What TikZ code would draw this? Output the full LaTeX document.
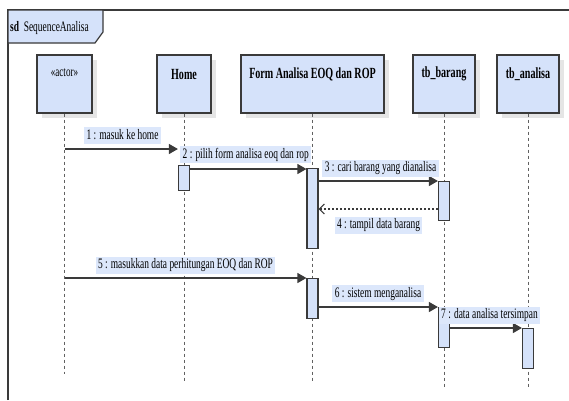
\documentclass[tikz,border=0pt]{standalone}
\usepackage{fontspec}
\newfontfamily\uml{Liberation Serif}[FakeStretch=0.65]
\usetikzlibrary{arrows.meta,shadows}
\definecolor{boxblue}{HTML}{D5E2FA}
\definecolor{labblue}{HTML}{DCE7FB}
\definecolor{edge}{HTML}{3A3A3A}
\begin{document}
\begin{tikzpicture}[x=1pt,y=-1pt,
  font=\uml\fontsize{14.5}{16}\selectfont,
  head/.style={draw=edge, line width=1.2pt, fill=boxblue, minimum width=#1,
    minimum height=58pt, inner sep=0pt,
    drop shadow={shadow xshift=5pt, shadow yshift=-5pt, fill=black!10, opacity=1}},
  htitle/.style={font=\uml\fontsize{15.5}{17}\selectfont\bfseries, inner sep=0pt},
  act/.style={draw=edge, line width=1.2pt, fill=boxblue, minimum width=11pt, inner sep=0pt, anchor=north},
  lifeline/.style={draw=edge!80, line width=0.9pt, dash pattern=on 3pt off 3pt},
  msg/.style={draw=edge, line width=1.3pt, -{Triangle[length=9pt,width=10pt]}},
  ret/.style={draw=edge, line width=1.1pt, dash pattern=on 2pt off 2pt, -{Straight Barb[length=5pt,width=10pt]}},
  lab/.style={fill=labblue, inner xsep=2.5pt, inner ysep=0pt, minimum height=17pt, text height=10pt, text depth=3pt}
]
\useasboundingbox (0,0) rectangle (569,400);
\fill[white] (0,0) rectangle (569,400);

% frame
\draw[edge, line width=1.3pt] (8,400) -- (8,10) -- (569,10);
\draw[edge, line width=1.2pt, fill=boxblue] (8,10) -- (103,10) -- (103,32) -- (95,43) -- (8,43) -- cycle;
\node[anchor=west, inner sep=0pt] (sdt) at (10,28) {\textbf{sd}\ \ SequenceAnalisa};

% heads
\node[head=55pt] (hA) at (64.5,84) {};
\node[head=54pt] (hH) at (184,84) {};
\node[head=143pt] (hF) at (312.5,84) {};
\node[head=62pt] (hB) at (444,84) {};
\node[head=62pt] (hC) at (528,84) {};
\node[inner sep=0pt, font=\uml\fontsize{14}{16}\selectfont] (tA) at (64.5,73) {«actor»};
\node[htitle] (tH) at (184,74) {Home};
\node[htitle] (tF) at (312.5,74) {Form Analisa EOQ dan ROP};
\node[htitle] (tB) at (444,74) {tb\_barang};
\node[htitle] (tC) at (528,74) {tb\_analisa};

% lifelines
\path (hA.south) ++(0,260) coordinate (eA);
\path (hH.south) ++(0,269) coordinate (eH);
\path (hF.south) ++(0,269) coordinate (eF);
\path (hB.south) ++(0,274) coordinate (eB);
\path (hC.south) ++(0,274) coordinate (eC);
\draw[lifeline] (hA.south) -- (eA);
\draw[lifeline] (hH.south) -- (eH);
\draw[lifeline] (hF.south) -- (eF);
\draw[lifeline] (hB.south) -- (eB);
\draw[lifeline] (hC.south) -- (eC);

% activations
\node[act, minimum height=25pt] (aH) at (184,165) {};
\node[act, minimum height=80pt] (aF1) at (312.5,168) {};
\node[act, minimum height=39pt] (aB1) at (444,181) {};
\node[act, minimum height=40pt] (aF2) at (312.5,278) {};
\node[act, minimum height=40pt] (aB2) at (444,307) {};
\node[act, minimum height=40pt] (aC) at (528,328) {};

% message end points
\coordinate (m1s) at (hA.south |- 0,149);
\coordinate (m1e) at (aH.west |- 0,149);
\coordinate (m5s) at (hA.south |- 0,278);

% messages
\draw[msg] (m1s) -- (m1e);
\draw[msg] (aH.east |- 0,169) -- (aF1.west |- 0,169);
\draw[msg] (aF1.east |- 0,181) -- (aB1.west |- 0,181);
\draw[ret] (aB1.west |- 0,209) -- (aF1.east |- 0,209);
\draw[msg] (m5s) -- (aF2.west |- 0,278);
\draw[msg] (aF2.east |- 0,307) -- (aB2.west |- 0,307);
\draw[msg] (aB2.east |- 0,328) -- (aC.west |- 0,328);

% labels
\node[lab] (l1) at (122.5,135.5) {1 : masuk ke home};
\node[lab, anchor=west] (l2) at (180,154.5) {2 : pilih form analisa eoq dan rop};
\node[lab] (l3) at (380.5,168) {3 : cari barang yang dianalisa};
\node[lab] (l4) at (378.5,225) {4 : tampil data barang};
\node[lab] (l5) at (185.5,265) {5 : masukkan data perhitungan EOQ dan ROP};
\node[lab] (l6) at (378,293.5) {6 : sistem menganalisa};
\node[lab] (l7) at (489.5,315) {7 : data analisa tersimpan};
\end{tikzpicture}
\end{document}
